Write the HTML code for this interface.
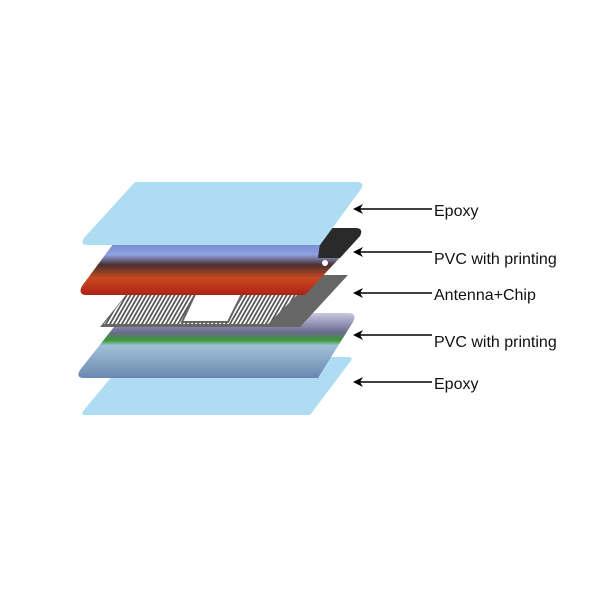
<!DOCTYPE html>
<html><head><style>body{margin:0;background:#fff}svg{display:block}</style></head><body>
<svg width="600" height="600" viewBox="0 0 600 600" xmlns="http://www.w3.org/2000/svg" font-family="Liberation Sans, sans-serif">
<defs>
<linearGradient id="pvc1" x1="0" y1="0" x2="0" y2="1">
<stop offset="0" stop-color="#5a6fc0"/><stop offset="0.4" stop-color="#8fa0e0"/><stop offset="0.55" stop-color="#4a3030"/><stop offset="0.75" stop-color="#c84820"/><stop offset="1" stop-color="#b02018"/></linearGradient>
<linearGradient id="pvc2" x1="0" y1="0" x2="0" y2="1">
<stop offset="0" stop-color="#c8c8e0"/><stop offset="0.3" stop-color="#6a6a90"/><stop offset="0.42" stop-color="#3a9a30"/><stop offset="0.5" stop-color="#a0c0d8"/><stop offset="1" stop-color="#6a88b0"/></linearGradient>
<pattern id="ant" width="4" height="10" patternUnits="userSpaceOnUse" patternTransform="skewX(-30)"><rect width="4" height="10" fill="#fff"/><rect width="2" height="10" fill="#555"/></pattern>
</defs>
<path d="M128 357 L348 357 Q354 357 350 362 L310 415 L85 415 Q80 415 84 410 Z" fill="#aedcf2"/>
<path d="M125 313 L350 313 Q357 314 353 322 L318 378 L82 378 Q76 377 80 370 Z" fill="url(#pvc2)"/>
<path d="M142 275 L348 275 L300 327 L100 327 Z" fill="#666"/>
<path d="M138 280 L312 280 L268 324 L104 324 Z" fill="url(#ant)"/>
<path d="M198 288 L245 288 L228 322 L182 322 Z" fill="#fff" stroke="#666" stroke-width="2"/>
<path d="M125 228 L355 228 Q364 228 360 236 L305 295 L85 295 Q78 294 82 286 Z" fill="url(#pvc1)"/>
<path d="M322 228 L355 228 Q364 228 360 236 L340 258 L318 258 Z" fill="#2a2a2a"/>
<circle cx="325" cy="263" r="3" fill="#fff"/>
<path d="M135 182 L358 182 Q365 183 361 189 L320 245 L86 245 Q80 244 84 238 Z" fill="#aedcf2"/>
<g stroke="#000" stroke-width="1.5">
<line x1="356" y1="209" x2="432" y2="209"/><line x1="356" y1="252" x2="432" y2="252"/><line x1="356" y1="293" x2="432" y2="293"/><line x1="356" y1="335" x2="432" y2="335"/><line x1="356" y1="382" x2="432" y2="382"/>
</g>
<g fill="#000">
<path d="M353 209 l10 -5 l-3 5 l3 5z"/><path d="M353 252 l10 -5 l-3 5 l3 5z"/><path d="M353 293 l10 -5 l-3 5 l3 5z"/><path d="M353 335 l10 -5 l-3 5 l3 5z"/><path d="M353 382 l10 -5 l-3 5 l3 5z"/>
</g>
<g font-size="16" fill="#111">
<text x="434" y="216">Epoxy</text>
<text x="434" y="264">PVC with printing</text>
<text x="434" y="300">Antenna+Chip</text>
<text x="434" y="347">PVC with printing</text>
<text x="434" y="389">Epoxy</text>
</g>
</svg>
</body></html>
